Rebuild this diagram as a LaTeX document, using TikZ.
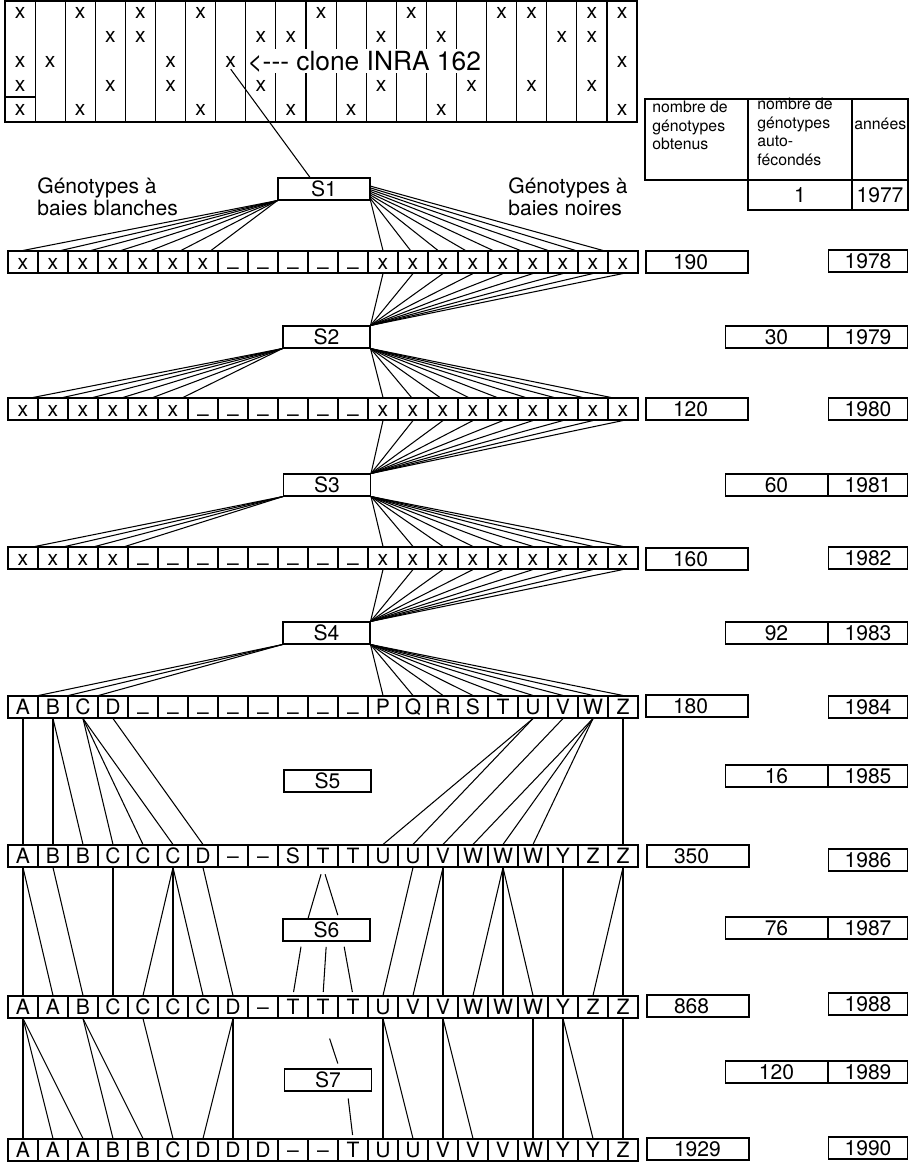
\documentclass[tikz,border=0pt]{standalone}
\usepackage{fontspec}
\setmainfont{TeX Gyre Heros}
\usetikzlibrary{positioning,calc}
\newcommand{\bas}{\raisebox{-3pt}{–}}
\tikzset{
  lien/.style={line width=0.6pt},
  cell/.style={draw,line width=0.6pt,minimum width=0.6cm,minimum height=0.44cm,inner sep=0pt,text height=8.6pt,text depth=0pt,font=\fontsize{12}{14}\selectfont},
  sbox/.style={draw,line width=0.6pt,minimum width=1.74cm,minimum height=0.44cm,inner sep=0pt,font=\fontsize{12}{14}\selectfont},
  obt/.style={draw,line width=0.6pt,minimum height=0.44cm,text width=0.96cm,inner xsep=0.54cm,inner ysep=0pt,align=left,font=\fontsize{12}{14}\selectfont},
  yr/.style={draw,line width=0.6pt,minimum width=1.58cm,minimum height=0.44cm,inner sep=0pt,font=\fontsize{12}{14}\selectfont},
  autof/.style={draw,line width=0.6pt,minimum width=2.04cm,minimum height=0.44cm,inner sep=0pt,font=\fontsize{12}{14}\selectfont},
  marque/.style={inner sep=1pt,font=\fontsize{12}{14}\selectfont},
  hdr/.style={anchor=north west,inner sep=0pt,align=left,font=\fontsize{9}{10.5}\selectfont},
  etiq/.style={anchor=west,inner sep=0pt,align=left,font=\fontsize{12}{12.5}\selectfont}
}

\begin{document}
\begin{tikzpicture}[x=0.02cm,y=-0.02cm]
\useasboundingbox (0,0) rectangle (915,1163);

% grille de depart
\draw[lien] (5,1) rectangle (637,122);
\foreach \k in {1,...,8} \draw[lien] ({5+30.1*\k},1) -- ({5+30.1*\k},122);
\foreach \k in {16,...,20} \draw[lien] ({5+30.1*\k},1) -- ({5+30.1*\k},122);
\foreach \k in {9,...,15} {
  \draw[lien] ({5+30.1*\k},1) -- ({5+30.1*\k},49);
  \draw[lien] ({5+30.1*\k},73) -- ({5+30.1*\k},122);
}
\draw[lien] (5,97) -- (35,97);
\foreach \c/\r in {0/1,2/1,4/1,6/1,10/1,13/1,16/1,17/1,19/1,20/1,
                   3/2,4/2,8/2,9/2,12/2,14/2,18/2,19/2,
                   0/3,1/3,5/3,20/3,
                   0/4,3/4,5/4,8/4,12/4,15/4,17/4,19/4,
                   0/5,2/5,6/5,9/5,11/5,14/5,20/5}
  \node[marque] (g\c-\r) at ({5+30.1*(\c+0.5)},{24.2*\r-11}) {x};
\node[marque] (clone) at ({5+30.1*7.5},61.6) {x};
\node[anchor=west,inner sep=0pt,font=\fontsize{15}{17}\selectfont] (clonelbl) at (247,61.6) {<-{}-{}- clone INRA 162};

% tableau
\draw[lien] (645,99) rectangle (908,180);
\draw[lien] (748,99) -- (748,180) (852,99) -- (852,180);
\draw[lien] (748,180) rectangle (908,210);
\draw[lien] (852,180) -- (852,210);
\node[hdr] (h1) at (652,101) {nombre de\\génotypes\\obtenus};
\node[hdr] (h2) at (757,98) {nombre de\\génotypes\\auto-\\fécondés};
\node[hdr,anchor=west] (h3) at (854,124) {années};
\node[marque] (v1) at (800,195) {1};
\node[marque] (v77) at (880,195) {1977};

\node[etiq] (blanc) at (37,197) {Génotypes à\\baies blanches};
\node[etiq] (noir) at (508,197) {Génotypes à\\baies noires};

% generations
\foreach \lbl [count=\i] in {x,x,x,x,x,x,x,\bas,\bas,\bas,\bas,\bas,x,x,x,x,x,x,x,x,x}
  \node[cell] (r1c\i) at ({30*\i-7},262) {\lbl};
\foreach \lbl [count=\i] in {x,x,x,x,x,x,\bas,\bas,\bas,\bas,\bas,\bas,x,x,x,x,x,x,x,x,x}
  \node[cell] (r2c\i) at ({30*\i-7},409) {\lbl};
\foreach \lbl [count=\i] in {x,x,x,x,\bas,\bas,\bas,\bas,\bas,\bas,\bas,\bas,x,x,x,x,x,x,x,x,x}
  \node[cell] (r3c\i) at ({30*\i-7},558) {\lbl};
\foreach \lbl [count=\i] in {A,B,C,D,\bas,\bas,\bas,\bas,\bas,\bas,\bas,\bas,P,Q,R,S,T,U,V,W,Z}
  \node[cell] (r4c\i) at ({30*\i-7},707) {\lbl};
\foreach \lbl [count=\i] in {A,B,B,C,C,C,D,–,–,S,T,T,U,U,V,W,W,W,Y,Z,Z}
  \node[cell] (r5c\i) at ({30*\i-7},856) {\lbl};
\foreach \lbl [count=\i] in {A,A,B,C,C,C,C,D,–,T,T,T,U,V,V,W,W,W,Y,Z,Z}
  \node[cell] (r6c\i) at ({30*\i-7},1007) {\lbl};
\foreach \lbl [count=\i] in {A,A,A,B,B,C,D,D,D,–,–,T,U,U,V,V,V,W,Y,Y,Z}
  \node[cell] (r7c\i) at ({30*\i-7},1150) {\lbl};

\node[sbox,minimum width=1.84cm] (S1) at (324,189) {S1};
\node[sbox] (S2) at (326.5,337) {S2};
\node[sbox] (S3) at (327,485) {S3};
\node[sbox] (S4) at (326.5,633) {S4};
\node[sbox] (S5) at (327.5,781) {S5};
\node[sbox] (S6) at (326.5,930) {S6};
\node[sbox] (S7) at (328,1080) {S7};

% effectifs et annees
\node[obt] (o78) at (697,262) {190};
\node[yr] (y78) at (868,261) {1978};
\node[yr] (y79) at (868,337) {1979};
\node[autof,left=0pt of y79] (a79) {30};
\node[obt] (o80) at (697,409) {120};
\node[yr] (y80) at (868,409) {1980};
\node[yr] (y81) at (868,485) {1981};
\node[autof,left=0pt of y81] (a81) {60};
\node[obt] (o82) at (697,559) {160};
\node[yr] (y82) at (868,558) {1982};
\node[yr] (y83) at (868,633) {1983};
\node[autof,left=0pt of y83] (a83) {92};
\node[obt] (o84) at (697,706) {180};
\node[yr] (y84) at (868,707) {1984};
\node[yr] (y85) at (868,776) {1985};
\node[autof,left=0pt of y85] (a85) {16};
\node[obt] (o86) at (698,856) {350};
\node[yr] (y86) at (868,860) {1986};
\node[yr] (y87) at (868,928) {1987};
\node[autof,left=0pt of y87] (a87) {76};
\node[obt] (o88) at (698,1006) {868};
\node[yr] (y88) at (868,1004) {1988};
\node[yr] (y89) at (868,1072) {1989};
\node[autof,left=0pt of y89] (a89) {120};
\node[obt] (o90) at (698,1149) {1929};
\node[yr] (y90) at (868,1148) {1990};

% autofecondations
\draw[lien] (clone.south) -- ($(S1.north west)!0.35!(S1.north east)$);
\draw[lien] (S1.south west) -- (r1c1.north);
\foreach \i in {2,...,7} \draw[lien] (S1.south west) -- ($(r1c\i.north)+(8,0)$);
\foreach \i [count=\k] in {13,...,21}
  \draw[lien] ($(S1.south east)+(0,{-1.8*(\k-1)})$) -- ($(r1c\i.north)+({-2.5*(\k-1)},0)$);
\foreach \i in {13,...,21} \draw[lien] (r1c\i.south) -- (S2.north east);
\foreach \i in {1,...,6} \draw[lien] (S2.south west) -- ($(r2c\i.north)+(10,0)$);
\foreach \i [count=\k] in {13,...,21}
  \draw[lien] (S2.south east) -- ($(r2c\i.north)+({-1.5*(\k-1)},0)$);
\foreach \i in {13,...,21} \draw[lien] (r2c\i.south) -- (S3.north east);
\foreach \i in {1,...,4} \draw[lien] (S3.south west) -- ($(r3c\i.north)+(12,0)$);
\foreach \i in {13,...,21} \draw[lien] (S3.south east) -- (r3c\i.north);
\foreach \i in {13,...,21} \draw[lien] (r3c\i.south) -- (S4.north east);
\foreach \i in {1,...,3} \draw[lien] (S4.south west) -- (r4c\i.north east);
\foreach \i in {13,...,21} \draw[lien] (S4.south east) -- (r4c\i.north);

% descendances suivies
\foreach \a/\b in {1/1,2/2,2/3,3/4,3/5,3/6,4/7,18/13,18/14,19/15,20/16,20/17,20/18,21/21}
  \draw[lien] (r4c\a.south) -- (r5c\b.north);
\foreach \a/\b in {1/1,1/2,2/3,4/4,6/5,6/6,6/7,7/8,14/13,15/14,15/15,17/16,17/17,17/18,19/19,21/20,21/21}
  \draw[lien] (r5c\a.south) -- (r6c\b.north);
\foreach \a/\b in {1/1,1/2,1/3,3/4,3/5,5/6,8/7,8/8,13/13,13/14,15/15,15/16,18/18,19/19,19/20,21/21}
  \draw[lien] (r6c\a.south) -- (r7c\b.north);

\draw[lien,shorten <=4pt] (r5c11.south) -- ($(S6.north west)!0.29!(S6.north east)$);
\draw[lien,shorten <=4pt,shorten >=2pt] (r5c11.south) -- ($(S6.north west)!0.64!(S6.north east)$);
\foreach \f/\i in {0.22/10,0.5/11,0.69/12}
  \draw[lien,shorten <=3pt,shorten >=2pt] ($(S6.south west)!\f!(S6.south east)$) -- (r6c\i.north);
\draw[lien,shorten <=12pt,shorten >=3pt] (r6c11.south) -- ($(S7.north west)!0.63!(S7.north east)$);
\draw[lien,shorten <=4pt,shorten >=2pt] ($(S7.south west)!0.72!(S7.south east)$) -- (r7c12.north);
\end{tikzpicture}
\end{document}
